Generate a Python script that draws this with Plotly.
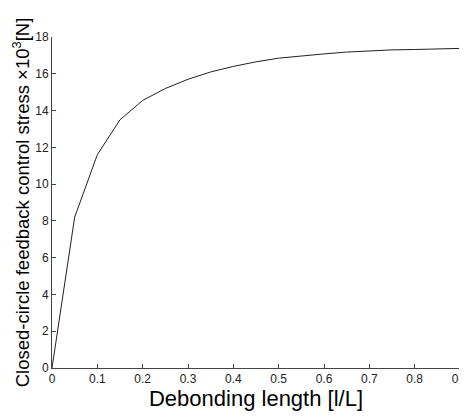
import plotly.graph_objects as go

# debonding length l/L and closed-circle feedback control stress (x10^3 N)
debond = [0, 0.05, 0.1, 0.15, 0.2, 0.25, 0.3, 0.35, 0.4, 0.45,
          0.5, 0.55, 0.6, 0.65, 0.7, 0.75, 0.8, 0.85, 0.9]
stress = [0, 8.2, 11.6, 13.5, 14.55, 15.2, 15.7, 16.1, 16.4, 16.65,
          16.85, 16.98, 17.08, 17.18, 17.25, 17.3, 17.32, 17.33, 17.38]

xticks = [0, 0.1, 0.2, 0.3, 0.4, 0.5, 0.6, 0.7, 0.8, 0.9]
yticks = [0, 2, 4, 6, 8, 10, 12, 14, 16, 18]

fig = go.Figure()
fig.add_scatter(x=debond, y=stress, mode="lines",
                line=dict(color="#222222", width=1), cliponaxis=False)

# page body has an 8px margin, so the figure is a bit smaller than the window
fig.update_layout(
    width=459, height=409,
    margin=dict(l=44, r=7, t=29, b=49),
    paper_bgcolor="white", plot_bgcolor="white",
    showlegend=False,
    font=dict(family="Liberation Sans, Arial", color="black"),
)
fig.update_xaxes(
    range=[0, 0.9], tickvals=xticks, ticktext=[str(t) for t in xticks],
    automargin=False, ticklabeloverflow="allow",
    showgrid=False, zeroline=False, showline=True, linecolor="#444444", linewidth=1,
    ticks="inside", ticklen=4, tickcolor="#444444",
    tickfont=dict(size=12, color="#222222"),
    title=dict(text="Debonding length [l/L]", font=dict(size=22), standoff=4),
)
fig.update_yaxes(
    range=[0, 18], tickvals=yticks,
    automargin=False,
    showgrid=False, zeroline=False, showline=True, linecolor="#444444", linewidth=1,
    ticks="inside", ticklen=4, tickcolor="#444444",
    tickfont=dict(size=12, color="#222222"),
    title=dict(text="Closed-circle feedback control stress ×10<sup>3</sup>[N]",
               font=dict(size=18.5), standoff=0),
)

fig.write_html("out.html")
